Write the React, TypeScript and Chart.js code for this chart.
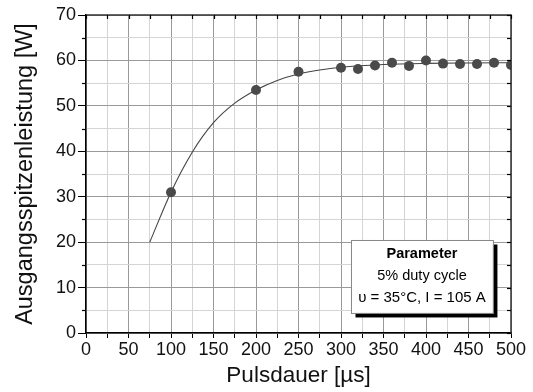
import React, { useEffect, useRef } from 'react';
import { Chart, registerables } from 'chart.js';

Chart.register(...registerables);

// Measured points
const pulseDurations = [100, 200, 250, 300, 320, 340, 360, 380, 400, 420, 440, 460, 480, 500];
const measuredPower = [31.0, 53.5, 57.5, 58.4, 58.1, 58.9, 59.5, 58.8, 60.0, 59.3, 59.2, 59.2, 59.5, 59.0];

// Fit curve
const fitDurations = [75, 100, 125, 150, 175, 200, 225, 250, 275, 300, 350, 400, 450, 500];
const fitPower = [20, 31, 39.8, 46.3, 50.6, 53.5, 55.6, 57.0, 57.9, 58.5, 59.1, 59.35, 59.45, 59.5];

const xMin = 0;
const xMax = 500;
const xStep = 25;
const xLabelStep = 50;
const yMin = 0;
const yMax = 70;
const yStep = 5;
const yLabelStep = 10;

const xTitle = 'Pulsdauer [µs]';
const yTitle = 'Ausgangsspitzenleistung [W]';
const legendLines = ['Parameter', '5% duty cycle', 'υ = 35°C, I = 105 A'];

const FONT = "'Liberation Sans', Arial, sans-serif";

const framePlugin = {
  id: 'frameAndBox',
  afterDatasetsDraw(chart: any) {
    const { ctx, chartArea: a, scales } = chart;
    ctx.save();
    // frame top/right
    ctx.strokeStyle = '#333';
    ctx.lineWidth = 1.5;
    ctx.beginPath();
    ctx.moveTo(a.left, a.top);
    ctx.lineTo(a.right, a.top);
    ctx.lineTo(a.right, a.bottom);
    ctx.stroke();
    ctx.lineWidth = 1.2;
    ctx.strokeStyle = '#000';
    // inward ticks at top
    for (const t of scales.x.ticks) {
      const px = Math.round(scales.x.getPixelForValue(t.value)) + 0.5;
      ctx.beginPath();
      ctx.moveTo(px, a.top);
      ctx.lineTo(px, a.top + 4);
      ctx.stroke();
    }
    // inward ticks at right
    for (const t of scales.y.ticks) {
      const py = Math.round(scales.y.getPixelForValue(t.value)) + 0.5;
      ctx.beginPath();
      ctx.moveTo(a.right, py);
      ctx.lineTo(a.right - 4, py);
      ctx.stroke();
    }
    // short outer minor ticks on the left axis
    for (const t of scales.y.ticks) {
      if (t.value % yLabelStep === 0) continue;
      const py = Math.round(scales.y.getPixelForValue(t.value)) + 0.5;
      ctx.beginPath();
      ctx.moveTo(a.left, py);
      ctx.lineTo(a.left - 4, py);
      ctx.stroke();
    }
    // legend box
    const w = a.right - a.left;
    const h = a.bottom - a.top;
    const bx = a.left + w * 0.6235;
    const by = a.top + h * 0.7075;
    const bw = w * 0.334;
    const bh = h * 0.2295;
    ctx.fillStyle = '#000';
    ctx.fillRect(bx + 4.5, by + 4.5, bw, bh);
    ctx.fillStyle = '#fff';
    ctx.fillRect(bx, by, bw, bh);
    ctx.strokeStyle = '#888';
    ctx.lineWidth = 1;
    ctx.strokeRect(bx + 0.5, by + 0.5, bw, bh);
    ctx.fillStyle = '#000';
    ctx.textAlign = 'center';
    ctx.textBaseline = 'middle';
    const cx = bx + bw / 2;
    ctx.font = `bold 14.5px ${FONT}`;
    ctx.fillText(legendLines[0], cx, by + 14);
    ctx.font = `14.5px ${FONT}`;
    ctx.fillText(legendLines[1], cx, by + 36.5);
    ctx.font = `15px ${FONT}`;
    ctx.fillText(legendLines[2], cx, by + 58);
    ctx.restore();
  },
};

export default function App() {
  const ref = useRef<HTMLCanvasElement>(null);
  useEffect(() => {
    document.body.style.margin = '0';
    const canvas = ref.current!;
    const chart = new Chart(canvas, {
      type: 'line',
      data: {
        datasets: [
          {
            label: 'Messwerte',
            data: pulseDurations.map((x, i) => ({ x, y: measuredPower[i] })),
            showLine: false,
            pointRadius: 5,
            pointBackgroundColor: '#4a4a4a',
            pointBorderColor: '#4a4a4a',
            pointBorderWidth: 0,
          },
          {
            label: 'Fit',
            data: fitDurations.map((x, i) => ({ x, y: fitPower[i] })),
            borderColor: '#444',
            borderWidth: 1.1,
            pointRadius: 0,
            cubicInterpolationMode: 'monotone',
            fill: false,
          },
        ],
      },
      options: {
        responsive: false,
        animation: false,
        layout: { padding: { top: 15, right: 22, left: 0, bottom: 0 } },
        plugins: { legend: { display: false }, tooltip: { enabled: false } },
        scales: {
          x: {
            type: 'linear',
            min: xMin,
            max: xMax,
            afterFit: (s: any) => {
              s.height = 59;
            },
            ticks: {
              stepSize: xStep,
              autoSkip: false,
              maxRotation: 0,
              padding: 1,
              color: '#111',
              font: { family: FONT, size: 18 },
              callback: (v: any) => (Number(v) % xLabelStep === 0 ? String(v) : ''),
            },
            grid: {
              color: (c: any) => (c.tick && c.tick.value % xLabelStep === 0 ? '#9a9a9a' : '#d4d4d4'),
              tickColor: '#000',
              tickLength: 5,
              lineWidth: 1,
            },
            border: { color: '#000', width: 1.5 },
            title: {
              display: true,
              text: xTitle,
              color: '#111',
              font: { family: FONT, size: 22.5 },
              padding: { top: 0, bottom: 3 },
            },
          },
          y: {
            type: 'linear',
            min: yMin,
            max: yMax,
            afterFit: (s: any) => {
              s.width = 86;
            },
            ticks: {
              stepSize: yStep,
              autoSkip: false,
              padding: 2,
              color: '#111',
              font: { family: FONT, size: 18 },
              callback: (v: any) => (Number(v) % yLabelStep === 0 ? String(v) : ''),
            },
            grid: {
              color: (c: any) => (c.tick && c.tick.value % yLabelStep === 0 ? '#9a9a9a' : '#d4d4d4'),
              tickColor: (c: any) => (c.tick && c.tick.value % yLabelStep === 0 ? '#000' : 'rgba(0,0,0,0)'),
              tickLength: 8,
              lineWidth: 1,
            },
            border: { color: '#000', width: 1.5 },
            title: {
              display: true,
              text: yTitle,
              color: '#111',
              font: { family: FONT, size: 23.5 },
              padding: { top: 11, bottom: 0 },
            },
          },
        },
      },
      plugins: [framePlugin],
    });
    return () => chart.destroy();
  }, []);
  return (
    <div style={{ position: 'absolute', left: 0, top: 0, width: 533, height: 392 }}>
      <canvas ref={ref} width={533} height={392} />
    </div>
  );
}
